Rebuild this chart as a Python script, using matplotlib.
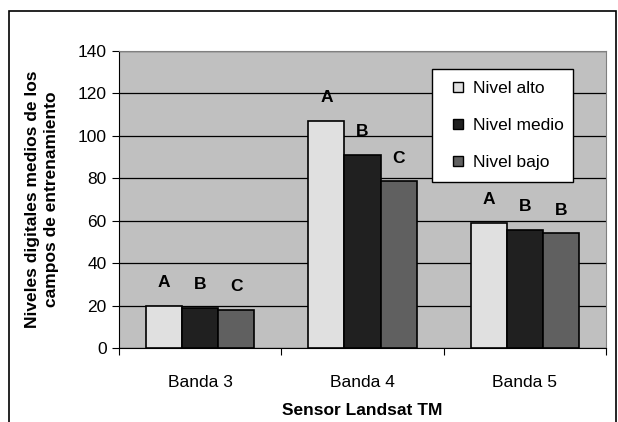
import numpy as np
import matplotlib.pyplot as plt
from matplotlib.patches import Rectangle
from matplotlib.lines import Line2D

plt.rcParams['font.family'] = ['Liberation Sans', 'DejaVu Sans']

bandas = ["Banda 3", "Banda 4", "Banda 5"]
niveles = ["Nivel alto", "Nivel medio", "Nivel bajo"]
alto = [20, 107, 59]
medio = [19, 91, 55.5]
bajo = [18, 78.5, 54]
letras_alto = ["A", "A", "A"]
letras_medio = ["B", "B", "B"]
letras_bajo = ["C", "C", "B"]

colores = ["#e0e0e0", "#202020", "#606060"]

fig = plt.figure(figsize=(6.18, 4.22), dpi=100)
ax = fig.add_axes([119/618, 1 - 348/422, 487/618, 297/422])
ax.set_facecolor("#c0c0c0")

x = np.arange(len(bandas))
w = 0.222
series = [alto, medio, bajo]
letras = [letras_alto, letras_medio, letras_bajo]
for i, (vals, col, lab) in enumerate(zip(series, colores, niveles)):
    pos = x + (i - 1) * w
    ax.bar(pos, vals, width=w, color=col, edgecolor="black", linewidth=1.2, label=lab, zorder=3)
    for p, v, l in zip(pos, vals, letras[i]):
        ax.text(p, v + 7.5, l, ha="center", va="bottom", fontsize=12.5, fontweight="bold", zorder=4)

ax.set_xlim(-0.5, 2.5)
ax.set_ylim(0, 140)
ax.set_yticks(np.arange(0, 141, 20))
ax.yaxis.grid(True, color="black", linewidth=0.9, zorder=1)
ax.set_axisbelow(True)

ax.set_xticks([-0.5, 0.5, 1.5, 2.5])
ax.set_xticklabels([])
ax.set_xticks(x, minor=True)
ax.set_xticklabels(bandas, minor=True)
ax.tick_params(axis="x", which="minor", length=0, pad=19.5, labelsize=12.5)
ax.tick_params(axis="x", which="major", length=5, direction="out")
ax.tick_params(axis="y", length=5, direction="out", labelsize=12.5, pad=4)

for s in ["top", "right"]:
    ax.spines[s].set_color("#808080")
ax.spines["left"].set_color("black")
ax.spines["bottom"].set_color("black")

ax.set_xlabel("Sensor Landsat TM", fontsize=12.5, fontweight="bold", labelpad=9)
ax.set_ylabel("Niveles digitales medios de los\ncampos de entrenamiento", fontsize=12.5,
              fontweight="bold", labelpad=13, linespacing=1.4)

handles = [Line2D([], [], linestyle="none", marker="s", markersize=7, markerfacecolor=c,
                  markeredgecolor="black", markeredgewidth=1.0) for c in colores]
leg = ax.legend(handles, niveles, loc="upper left", mode="expand",
                bbox_to_anchor=(313/487, 0, 141/487, 279/297), fontsize=12.5,
                frameon=True, fancybox=False, edgecolor="black", framealpha=1,
                handlelength=1.6, handletextpad=0.05,
                labelspacing=1.25, borderpad=0.7, borderaxespad=0)
leg.get_frame().set_linewidth(1.0)

fig.patches.append(Rectangle((9/618, -0.1), 607/618, 1.1 - 11/422, transform=fig.transFigure,
                             fill=False, edgecolor="black", linewidth=1.2))

fig.savefig("out.png", dpi=100)
